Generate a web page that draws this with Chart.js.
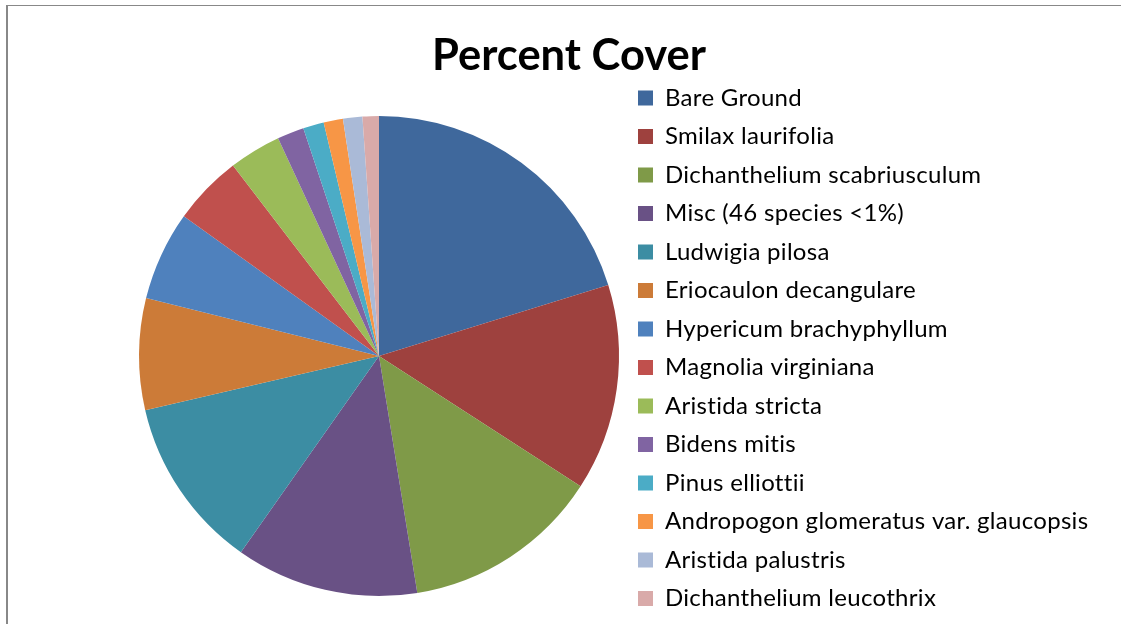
<!DOCTYPE html>
<html>
<head>
<meta charset="utf-8">
<script src="https://cdn.jsdelivr.net/npm/chart.js@4"></script>
<style>
    html, body { margin: 0; padding: 0; background: #ffffff; overflow: hidden; }
    #frame {
        position: absolute; left: 6px; top: 5px; width: 1300px; height: 700px;
        border-left: 2px solid #888888; border-top: 1px solid #888888;
    }
    #chart { position: absolute; left: 0; top: 0; }
</style>
</head>
<body>
<div id="frame"></div>
<canvas id="chart" width="1250" height="680"></canvas>
<script>
// Данные диаграммы
const categories = [
    'Bare Ground',
    'Smilax laurifolia',
    'Dichanthelium scabriusculum',
    'Misc (46 species <1%)',
    'Ludwigia pilosa',
    'Eriocaulon decangulare',
    'Hypericum brachyphyllum',
    'Magnolia virginiana',
    'Aristida stricta',
    'Bidens mitis',
    'Pinus elliottii',
    'Andropogon glomeratus var. glaucopsis',
    'Aristida palustris',
    'Dichanthelium leucothrix'
];
const coverValues = [20.2, 13.9, 13.3, 12.3, 11.6, 7.5, 6.0, 4.7, 3.5, 1.8, 1.4, 1.3, 1.3, 1.1];
const sliceColors = [
    '#3F689C', '#9E413E', '#7F9A48', '#695185', '#3C8DA3', '#CC7B38',
    '#4F81BD', '#C0504D', '#9BBB59', '#8064A2', '#4BACC6', '#F79646',
    '#AABAD7', '#D9AAA9'
];
const chartTitle = 'Percent Cover';

const fontFamily = 'Lato, "Open Sans", sans-serif';
const canvasWidth = 1250;
const legendFont = 24;
const legendBox = 15;
const legendPad = 14.5;
const legendLeft = 623.5;
// Небольшой трекинг убирает лигатуры Lato (ti, tt)
const tracking = '0.3px';

// Ширина легенды (как считает Chart.js), чтобы поставить её левый край на место
function legendWidth() {
    const ctx = document.createElement('canvas').getContext('2d');
    ctx.font = `${legendFont}px ${fontFamily}`;
    ctx.letterSpacing = tracking;
    const longest = Math.max(...categories.map(c => ctx.measureText(c).width));
    return legendPad + legendBox + legendFont / 2 + longest + 10;
}

const trackingPlugin = {
    id: 'tracking',
    beforeLayout(chart) { chart.ctx.letterSpacing = tracking; },
    beforeDraw(chart) { chart.ctx.letterSpacing = tracking; }
};

// Заголовок по центру над всей областью, как в исходной диаграмме
const titlePlugin = {
    id: 'plotTitle',
    afterDraw(chart) {
        const ctx = chart.ctx;
        ctx.save();
        ctx.letterSpacing = '0px';
        ctx.font = `bold 43.5px ${fontFamily}`;
        ctx.fillStyle = '#000000';
        ctx.textAlign = 'center';
        ctx.textBaseline = 'alphabetic';
        ctx.fillText(chartTitle, 569, 70);
        ctx.restore();
    }
};

new Chart(document.getElementById('chart').getContext('2d'), {
    type: 'pie',
    data: {
        labels: categories,
        datasets: [{
            data: coverValues,
            backgroundColor: sliceColors,
            borderWidth: 0,
            radius: 240
        }]
    },
    options: {
        responsive: false,
        animation: false,
        layout: {
            padding: {
                left: 134.5,
                right: canvasWidth - legendLeft - legendWidth(),
                top: 71.5,
                bottom: 39.5
            }
        },
        plugins: {
            title: { display: false },
            legend: {
                position: 'right',
                align: 'start',
                fullSize: false,
                labels: {
                    boxWidth: legendBox,
                    boxHeight: legendBox,
                    padding: legendPad,
                    color: '#000000',
                    font: { family: fontFamily, size: legendFont }
                }
            },
            tooltip: { enabled: false }
        }
    },
    plugins: [trackingPlugin, titlePlugin]
});
</script>
</body>
</html>
